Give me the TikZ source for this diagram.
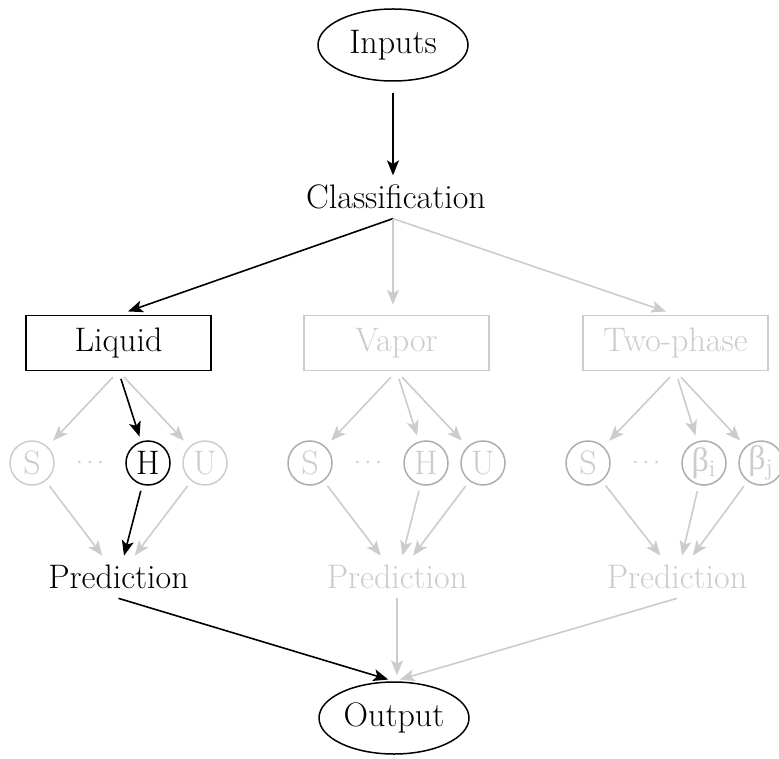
\documentclass[tikz,border=0pt]{standalone}
\usepackage{fontspec}
\newfontfamily\grk{Liberation Serif}
\usetikzlibrary{arrows.meta,shapes.geometric}
\definecolor{faint}{HTML}{CCCCCC}
\definecolor{mid}{HTML}{ADADAD}
\begin{document}
\begin{tikzpicture}[x=0.5pt,y=-0.5pt,
  every node/.style={font=\fontsize{17}{20}\selectfont},
  oval/.style={ellipse,draw,line width=0.75pt,minimum width=75pt,minimum height=36pt,inner sep=0pt},
  box/.style={rectangle,draw,line width=0.75pt,minimum width=92.5pt,minimum height=27.5pt,inner sep=0pt},
  lbl/.style={inner sep=4.5pt},
  var/.style={circle,draw,line width=0.75pt,minimum size=22pt,inner sep=0pt},
  offbox/.style={box,draw=faint,text=faint},
  offlbl/.style={lbl,text=faint},
  offvar/.style={var,draw=faint,text=faint},
  dimvar/.style={var,draw=mid,text=faint},
  dots/.style={inner sep=0pt,text=faint,font=\fontsize{12}{14}\selectfont},
  on/.style={line width=0.8pt,-{Stealth[length=7.5pt,width=6pt,inset=1.8pt]}},
  off/.style={on,draw=faint,fill=faint},
]
\useasboundingbox (0,0) rectangle (779,758);

% top and bottom
\node[oval] (in) at (393,45) {Inputs};
\node[lbl] (cls) at (396,197) {Classification};
\node[oval] (out) at (394,718) {Output};

% phase boxes
\node[box] (liq) at (118.5,343) {Liquid};
\node[offbox] (vap) at (396.5,343) {Vapor};
\node[offbox] (two) at (675.5,343) {Two-phase};

% liquid branch
\node[offvar] (ls) at (32,463) {S};
\node[dots] (ld) at (90,463) {$\cdots$};
\node[var] (lh) at (148,463) {H};
\node[offvar] (lu) at (205,463) {U};
\node[lbl] (lp) at (118.5,577) {Prediction};

% vapor branch
\node[dimvar] (vs) at (310,463) {S};
\node[dots] (vd) at (368,463) {$\cdots$};
\node[dimvar] (vh) at (426,463) {H};
\node[dimvar] (vu) at (483,463) {U};
\node[offlbl] (vp) at (397,577) {Prediction};

% two-phase branch
\node[dimvar] (ts) at (588,463) {S};
\node[dots] (td) at (646,463) {$\cdots$};
\node[dimvar] (tbi) at (704,463) {{\grk β}$_{\mathrm{i}}$};
\node[dimvar] (tbj) at (761,463) {{\grk β}$_{\mathrm{j}}$};
\node[offlbl] (tp) at (677,577) {Prediction};

% connectors
\draw[on,shorten <=5.5pt] (in.south) -- (in.south |- cls.north);
\draw[on,shorten >=5pt] (in.south |- cls.south) -- (liq.north);
\draw[off,shorten >=5pt] (in.south |- cls.south) -- (in.south |- vap.north);
\draw[off,shorten >=5pt] (in.south |- cls.south) -- (two.north);

\draw[off,shorten <=4pt,shorten >=4pt] (liq.south) -- (ls);
\draw[on,shorten <=4pt,shorten >=2.5pt] (liq.south) -- (lh);
\draw[off,shorten <=4pt,shorten >=4pt] (liq.south) -- (lu);
\draw[off,shorten <=4pt,shorten >=4pt] (vap.south) -- (vs);
\draw[off,shorten <=4pt,shorten >=3pt] (vap.south) -- (vh);
\draw[off,shorten <=4pt,shorten >=4pt] (vap.south) -- (vu);
\draw[off,shorten <=4pt,shorten >=4pt] (two.south) -- (ts);
\draw[off,shorten <=4pt,shorten >=3pt] (two.south) -- (tbi);
\draw[off,shorten <=4pt,shorten >=4pt] (two.south) -- (tbj);

\draw[off,shorten <=3pt] (ls) -- (lp);
\draw[on,shorten <=3pt] (lh) -- (lp);
\draw[off,shorten <=3pt] (lu) -- (lp);
\draw[off,shorten <=3pt] (vs) -- (vp);
\draw[off,shorten <=3pt] (vh) -- (vp);
\draw[off,shorten <=3pt] (vu) -- (vp);
\draw[off,shorten <=3pt] (ts) -- (tp);
\draw[off,shorten <=3pt] (tbi) -- (tp);
\draw[off,shorten <=3pt] (tbj) -- (tp);

\draw[on,shorten >=3pt] (lp.south) -- (out.north);
\draw[off,shorten >=3pt] (vp.south) -- (vp.south |- out.north);
\draw[off,shorten >=3pt] (tp.south) -- (out.north);
\end{tikzpicture}
\end{document}
